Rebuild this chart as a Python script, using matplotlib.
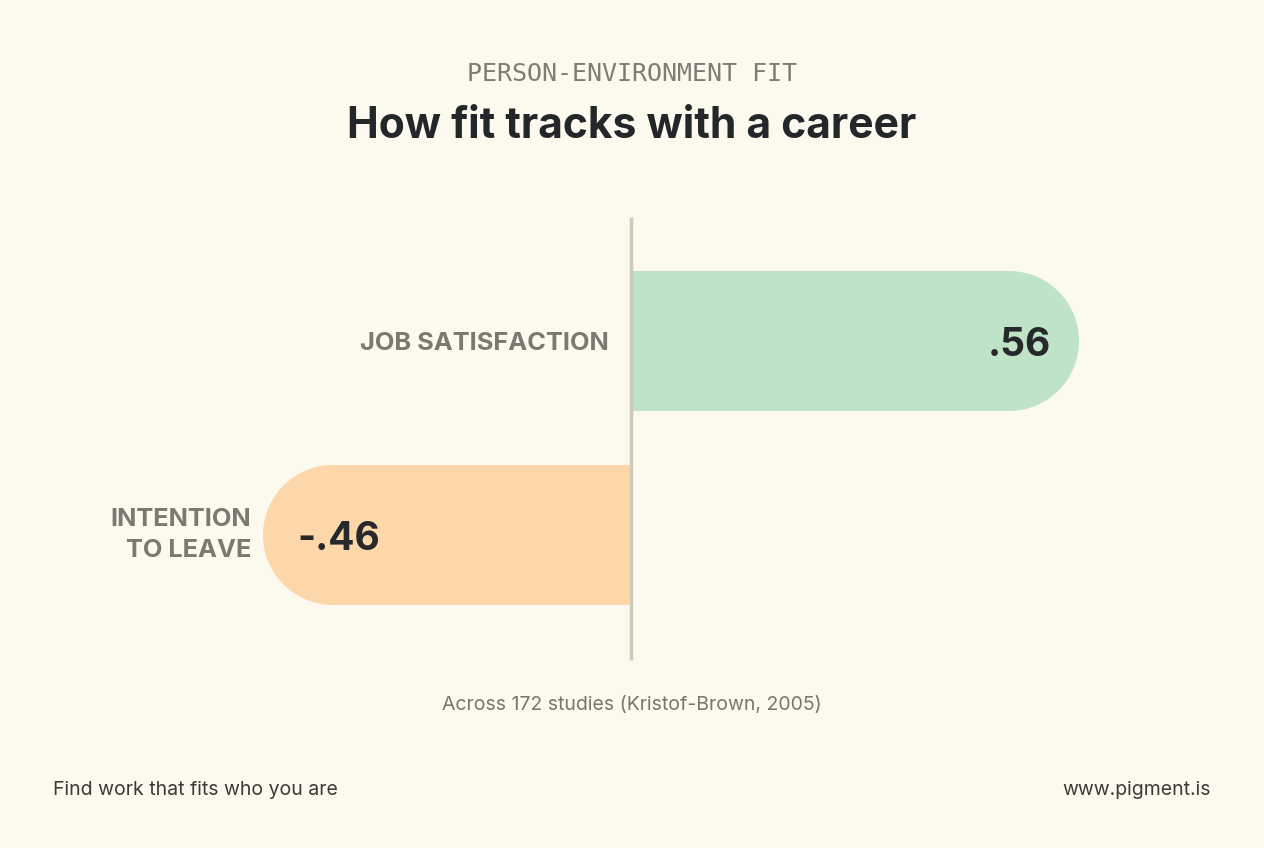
#!/usr/bin/env python
# -*- coding: utf-8 -*-

# fit_bars.py - diverging rounded bars for person-environment fit
import matplotlib
matplotlib.use("Agg")
import matplotlib.pyplot as plt
from matplotlib.patches import Rectangle, Ellipse

# data
categories = ["JOB SATISFACTION", "INTENTION\nTO LEAVE"]
values = [0.56, -0.46]
value_labels = [".56", "-.46"]

BG = "#FCF9EE"
BAR_COLORS = ["#BEE3C6", "#FDD7AA"]
W, H = 1264, 848
ZERO_PX = 631      # pixel x of the zero line
PX_PER_UNIT = 800  # pixels per unit of correlation
ROW_Y = [341, 535]
BAR_H = 140


def main():
    fig = plt.figure(figsize=(W / 100, H / 100), dpi=100, facecolor=BG)
    ax = fig.add_axes([0, 0, 1, 1])
    ax.set_facecolor(BG)
    ax.set_xlim(-ZERO_PX / PX_PER_UNIT, (W - ZERO_PX) / PX_PER_UNIT)
    ax.set_ylim(H, 0)
    ax.axis("off")

    r = BAR_H / 2
    r_x = r / PX_PER_UNIT  # radius in data units along x

    for cat, val, lab, y, col in zip(categories, values, value_labels, ROW_Y, BAR_COLORS):
        sign = 1 if val > 0 else -1
        flat_end = val - sign * r_x
        x0 = min(0, flat_end)
        ax.add_patch(Rectangle((x0, y - r), abs(flat_end), BAR_H,
                               facecolor=col, edgecolor="none", zorder=1))
        ax.add_patch(Ellipse((flat_end, y), 2 * r_x, BAR_H,
                             facecolor=col, edgecolor="none", zorder=1))
        # value inside the rounded end
        if val > 0:
            ax.text(val - 28 / PX_PER_UNIT, y, lab, ha="right", va="center_baseline",
                    fontsize=28, fontweight="bold", family="Inter", color="#26282B", zorder=3)
            ax.text(-22 / PX_PER_UNIT, y, cat, ha="right", va="center_baseline",
                    fontsize=18.3, fontweight="bold", family="Inter", color="#7A7A72", zorder=3)
        else:
            ax.text(val + 34 / PX_PER_UNIT, y, lab, ha="left", va="center_baseline",
                    fontsize=28, fontweight="bold", family="Inter", color="#26282B", zorder=3)
            ax.text(val - 12 / PX_PER_UNIT, y, cat, ha="right", va="center",
                    fontsize=18.3, fontweight="bold", family="Inter", color="#7A7A72",
                    linespacing=1.45, zorder=3)

    # zero line
    ax.plot([0, 0], [217, 660], color="#CFC9B8", lw=2.5, zorder=2, solid_capstyle="butt")

    # titles
    fig.text(632 / W, 1 - 74 / H, "PERSON-ENVIRONMENT FIT", ha="center", va="center",
             fontsize=18, family="DejaVu Sans Mono", color="#7D7D75")
    fig.text(632 / W, 1 - 126 / H, "How fit tracks with a career", ha="center", va="center",
             fontsize=30.7, fontweight="bold", family="Inter", color="#23272A")

    # footnote and footer
    fig.text(632 / W, 1 - 705 / H, "Across 172 studies (Kristof-Brown, 2005)", ha="center",
             va="center", fontsize=14, family="Inter", color="#77776F")
    fig.text(53 / W, 1 - 790 / H, "Find work that fits who you are", ha="left", va="center",
             fontsize=14, family="Inter", color="#3A3A38")
    fig.text(1211 / W, 1 - 790 / H, "www.pigment.is", ha="right", va="center",
             fontsize=14, family="Inter", color="#3A3A38")

    fig.savefig("out.png", dpi=100, facecolor=BG)


if __name__ == "__main__":
    main()
